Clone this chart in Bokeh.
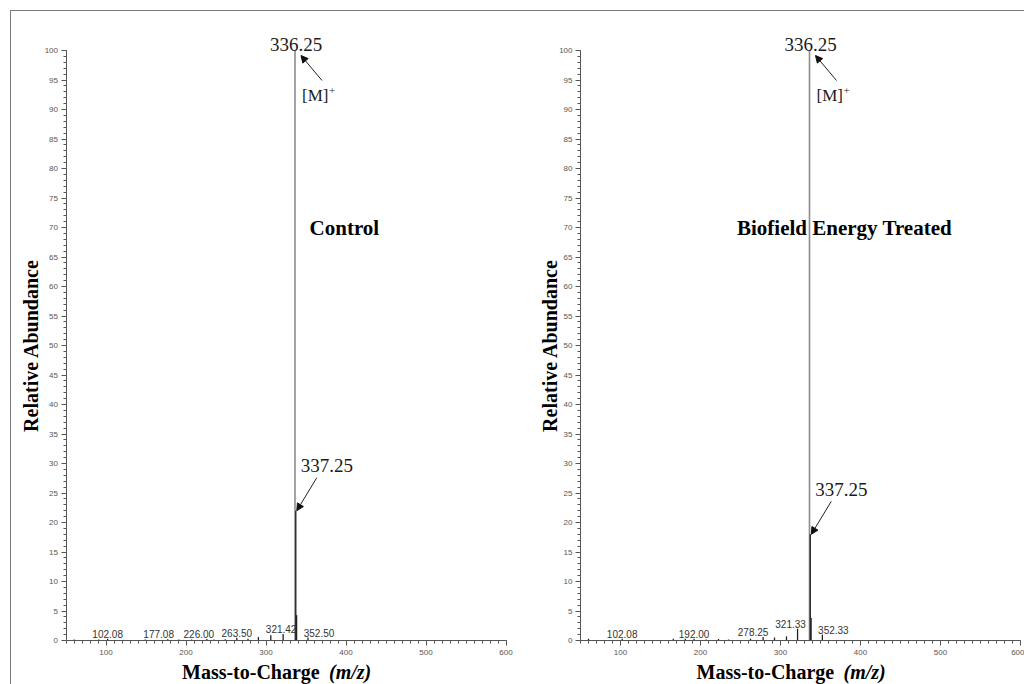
import math
from bokeh.plotting import figure
from bokeh.models import (Label, Arrow, NormalHead, LinearAxis, FixedTicker, Range1d)
from bokeh.layouts import row
from bokeh.embed import file_html
from bokeh.resources import INLINE

# ---------------- data ----------------
ctrl_mz = [60.0, 75.0, 91.0, 102.08, 119.0, 135.0, 149.0, 163.0, 177.08, 191.0, 207.0,
           226.00, 235.0, 249.0, 263.50, 277.5, 290.5, 306.0, 321.42, 336.25, 337.25,
           338.25, 352.50, 366.0]
ctrl_ab = [0.15, 0.1, 0.15, 0.3, 0.1, 0.1, 0.15, 0.1, 0.2, 0.15, 0.15,
           0.25, 0.15, 0.2, 0.45, 0.3, 0.6, 0.9, 1.1, 100.0, 22.0,
           4.3, 0.5, 0.1]
ctrl_lab_mz = [102.08, 177.08, 226.00, 263.50, 321.42, 352.50]
ctrl_lab_ab = [0.3, 0.2, 0.25, 0.45, 1.1, 0.5]

trt_mz = [60.0, 70.0, 102.08, 166.0, 181.0, 192.00, 207.0, 222.5, 235.0, 262.5, 278.25,
          292.5, 307.5, 321.33, 336.25, 337.25, 338.25, 352.33, 368.0]
trt_ab = [0.3, 0.1, 0.3, 0.3, 0.3, 0.3, 0.15, 0.25, 0.15, 0.3, 0.6,
          0.5, 0.7, 2.0, 100.0, 18.0, 3.8, 1.0, 0.1]
trt_lab_mz = [102.08, 192.00, 278.25, 321.33, 352.33]
trt_lab_ab = [0.3, 0.3, 0.6, 2.0, 1.0]

base_peak = 336.25
iso_peak = 337.25
ctrl_iso_ab = 22.0
trt_iso_ab = 18.0

x_ticks = [100, 200, 300, 400, 500, 600]
x_minor = list(range(50, 601, 10))
y_ticks = list(range(0, 101, 5))
y_minor = list(range(0, 101, 1))
X_MIN, X_MAX = 50, 600
Y_MIN, Y_MAX = 0, 100

# label pixel nudges (styling only)
ctrl_lab_dx = [0, -9, -8, 0, -2, 11]
trt_lab_dx = [0, 0, -10, -7, 11]

SERIF = "Liberation Serif"
SANS = "Liberation Sans"

FIG_H = 673
PX_PER_X = 0.8
PX_PER_Y = 5.9


def make_panel(mz, ab, lab_mz, lab_ab, lab_dx, iso_ab, title, title_x, width,
               left_px, first):
    # left_px: pixels from figure's left edge to x = X_MIN
    top_px = 39       # pixels from top to y = 100
    bottom_px = 44    # pixels from y = 0 to bottom
    x0 = X_MIN - left_px / PX_PER_X
    x1 = x0 + width / PX_PER_X
    y1 = Y_MAX + top_px / PX_PER_Y
    y0 = Y_MIN - bottom_px / PX_PER_Y
    p = figure(width=width, height=FIG_H, output_backend="svg", toolbar_location=None,
               x_range=Range1d(x0, x1), y_range=Range1d(y0, y1),
               x_axis_location=None, y_axis_location=None,
               min_border_left=0, min_border_right=0, min_border_top=0,
               min_border_bottom=0)
    p.outline_line_color = None
    p.grid.visible = False
    p.background_fill_color = "white"
    p.border_fill_color = "white"

    xa = LinearAxis(fixed_location=Y_MIN, bounds=(X_MIN, X_MAX),
                    ticker=FixedTicker(ticks=x_ticks, minor_ticks=x_minor))
    ya = LinearAxis(fixed_location=X_MIN, bounds=(Y_MIN, Y_MAX),
                    ticker=FixedTicker(ticks=y_ticks, minor_ticks=y_minor))
    for ax in (xa, ya):
        ax.axis_line_color = "#555555"
        ax.major_tick_line_color = "#555555"
        ax.minor_tick_line_color = "#555555"
        ax.major_label_text_font = SANS
        ax.major_label_text_font_size = "8px"
        ax.major_label_text_color = "#555555"
        ax.major_tick_in = 0
        ax.minor_tick_in = 0
        ax.major_tick_out = 5
        ax.minor_tick_out = 3
    xa.major_label_standoff = 4
    ya.major_label_standoff = 3
    p.add_layout(xa, "below")
    p.add_layout(ya, "left")

    # peaks (stick spectrum)
    main_mz = [m for m in mz if m == base_peak]
    main_ab = [a for m, a in zip(mz, ab) if m == base_peak]
    oth_mz = [m for m in mz if m != base_peak]
    oth_ab = [a for m, a in zip(mz, ab) if m != base_peak]
    p.segment(x0=main_mz, y0=[0] * len(main_mz), x1=main_mz, y1=main_ab,
              line_color="#8c8c8c", line_width=1.6)
    p.segment(x0=oth_mz, y0=[0] * len(oth_mz), x1=oth_mz, y1=oth_ab,
              line_color="#222222", line_width=1.3)

    # small peak labels
    for xm, ym, dx in zip(lab_mz, lab_ab, lab_dx):
        p.add_layout(Label(x=xm, y=ym, text="%.2f" % xm, x_offset=dx, y_offset=1,
                           text_align="center", text_baseline="bottom",
                           text_font=SANS, text_font_size="10px",
                           text_color="#333333"))

    # base peak annotation
    p.add_layout(Label(x=base_peak, y=Y_MAX, text="%.2f" % base_peak, x_offset=1,
                       y_offset=6, text_align="center", text_baseline="alphabetic",
                       text_font=SERIF, text_font_size="19px", text_color="#1a1a1a"))
    p.add_layout(Arrow(end=NormalHead(size=7, fill_color="#111111", line_color="#111111"),
                       x_start=base_peak + 27 / PX_PER_X, y_start=Y_MAX - 30 / PX_PER_Y,
                       x_end=base_peak + 6 / PX_PER_X, y_end=Y_MAX - 5 / PX_PER_Y,
                       line_color="#222222", line_width=1))
    p.add_layout(Label(x=base_peak, y=Y_MAX, text="[M]", x_offset=7, y_offset=-45,
                       text_align="left", text_baseline="alphabetic",
                       text_font=SERIF, text_font_size="17px", text_color="#1a1a1a"))
    p.add_layout(Label(x=base_peak, y=Y_MAX, text="+", x_offset=34, y_offset=-40,
                       text_align="left", text_baseline="alphabetic",
                       text_font=SERIF, text_font_size="11px", text_color="#1a1a1a"))

    # isotope peak annotation
    p.add_layout(Arrow(end=NormalHead(size=7, fill_color="#111111", line_color="#111111"),
                       x_start=iso_peak + 21 / PX_PER_X, y_start=iso_ab + 33 / PX_PER_Y,
                       x_end=iso_peak + 1 / PX_PER_X, y_end=iso_ab,
                       line_color="#222222", line_width=1))
    p.add_layout(Label(x=iso_peak, y=iso_ab, text="%.2f" % iso_peak, x_offset=5,
                       y_offset=45, text_align="left", text_baseline="alphabetic",
                       text_font=SERIF, text_font_size="19px", text_color="#1a1a1a"))

    # panel title
    p.add_layout(Label(x=title_x, y=70, text=title, text_align="center",
                       text_baseline="middle", text_font=SERIF,
                       text_font_size="21px", text_font_style="bold",
                       text_color="#000000"))

    # axis titles
    p.add_layout(Label(x=X_MIN, y=(Y_MIN + Y_MAX) / 2,
                       x_offset=-(35 if first else 31), text="Relative Abundance",
                       angle=math.pi / 2, text_align="center", text_baseline="middle",
                       text_font=SERIF, text_font_size="20px", text_font_style="bold",
                       text_color="#000000"))
    xc = (X_MIN + X_MAX) / 2
    p.add_layout(Label(x=xc, y=Y_MIN, x_offset=-104, y_offset=-31, text="Mass-to-Charge",
                       text_align="left", text_baseline="alphabetic",
                       text_font=SERIF, text_font_size="20px", text_font_style="bold",
                       text_color="#000000"))
    p.add_layout(Label(x=xc, y=Y_MIN, x_offset=43, y_offset=-31, text="(m/z)",
                       text_align="left", text_baseline="alphabetic",
                       text_font=SERIF, text_font_size="20px",
                       text_font_style="bold italic", text_color="#000000"))
    return p


p1 = make_panel(ctrl_mz, ctrl_ab, ctrl_lab_mz, ctrl_lab_ab, ctrl_lab_dx, ctrl_iso_ab,
                "Control", 398.0, 509, 54.5, True)
p2 = make_panel(trt_mz, trt_ab, trt_lab_mz, trt_lab_ab, trt_lab_dx, trt_iso_ab,
                "Biofield Energy Treated", 380.0, 504, 60, False)

layout = row(p1, p2, margin=(10, 0, 0, 10),
             styles={"border-top": "1px solid #7a7a7a", "border-left": "1px solid #7a7a7a"})

open("out.html", "w").write(file_html(layout, INLINE))
